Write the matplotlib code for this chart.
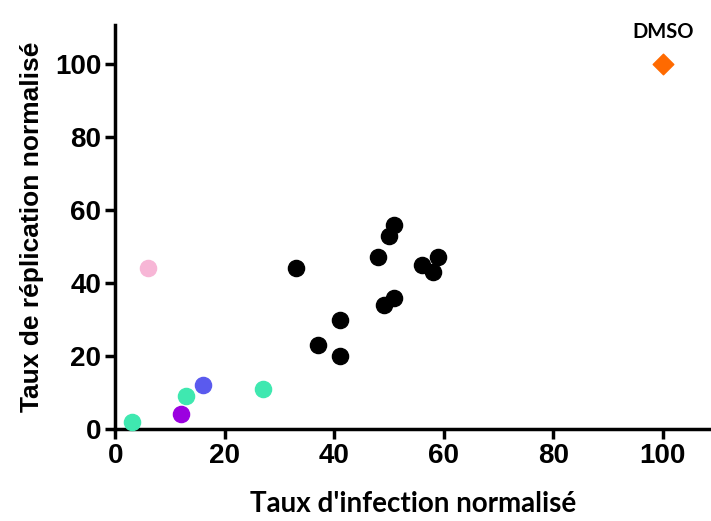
import matplotlib
matplotlib.use('Agg')
import matplotlib.pyplot as plt

# === Données ===
black_x = [33, 41, 37, 41, 48, 50, 51, 49, 51, 56, 58, 59]
black_y = [44, 30, 23, 20, 47, 53, 56, 34, 36, 45, 43, 47]
teal_x = [3, 13, 27]
teal_y = [2, 9, 11]
pink_x, pink_y = [6], [44]
purple_x, purple_y = [12], [4]
blue_x, blue_y = [16], [12]
dmso_x, dmso_y = [100], [100]

xticks = [0, 20, 40, 60, 80, 100]
yticks = [0, 20, 40, 60, 80, 100]

fig = plt.figure(figsize=(7.11, 5.21), dpi=100)
ax = fig.add_axes([0.162, 0.1766, 0.838, 0.7754])

ms = 135
ax.scatter(black_x, black_y, s=ms, color='black', zorder=3, clip_on=False)
ax.scatter(teal_x, teal_y, s=ms, color='#3FE8B0', zorder=3, clip_on=False)
ax.scatter(pink_x, pink_y, s=ms, color='#F7B6D6', zorder=3, clip_on=False)
ax.scatter(purple_x, purple_y, s=ms, color='#9B00E0', zorder=3, clip_on=False)
ax.scatter(blue_x, blue_y, s=ms, color='#5A5AEE', zorder=3, clip_on=False)
ax.scatter(dmso_x, dmso_y, s=110, marker='D', color='#FF6A00', zorder=3, clip_on=False)
ax.text(dmso_x[0], 106, 'DMSO', ha='center', va='bottom', fontsize=14.5,
        fontweight='bold', family='Lato')

ax.set_xlim(0, 108.8)
ax.set_ylim(0, 110.7)
ax.set_xticks(xticks)
ax.set_yticks(yticks)
for s in ['top', 'right']:
    ax.spines[s].set_visible(False)
for s in ['left', 'bottom']:
    ax.spines[s].set_linewidth(2.5)
ax.tick_params(width=2.5, length=7, labelsize=20, pad=3)
for lab in ax.get_xticklabels() + ax.get_yticklabels():
    lab.set_fontweight('bold')
    lab.set_family('Liberation Sans')

ax.set_xlabel("Taux d'infection normalisé", fontsize=20, fontweight='bold',
              family='Lato', labelpad=16)
ax.set_ylabel('Taux de réplication normalisé', fontsize=19, fontweight='bold',
              family='Liberation Sans', labelpad=8)

plt.savefig('out.png', dpi=100)
plt.close()
